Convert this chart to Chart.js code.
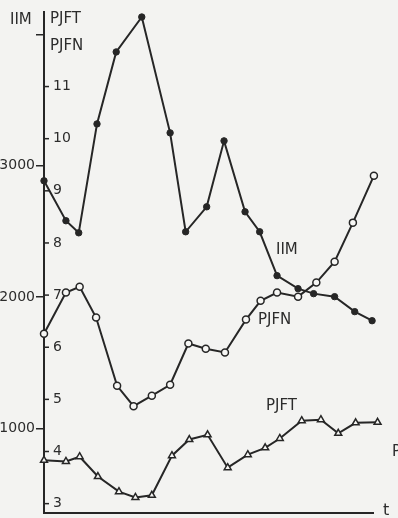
<!DOCTYPE html>
<html>
<head>
  <title>IIM / PJFN / PJFT</title>
  <script src="https://cdn.jsdelivr.net/npm/chart.js@4.4.0/dist/chart.umd.min.js"></script>
  <style>
    * { margin: 0; padding: 0; box-sizing: border-box; }
    body { background: #f3f3f1; width: 398px; height: 518px; overflow: hidden; }
    .wrap { position: relative; width: 398px; height: 518px; }
  </style>
</head>
<body>
  <div class="wrap"><canvas id="chart"></canvas></div>

  <script>
    // time positions (hand drawn, spacing not quite even)
    const tIIM  = [0, 1.2, 1.9, 2.9, 3.95, 5.35, 6.9, 7.75, 8.9, 9.85, 11.0, 11.8, 12.75, 13.9, 14.75, 15.9, 17.0, 17.95];
    const iim   = [2886, 2582, 2490, 3319, 3867, 4133, 3251, 2498, 2688, 3190, 2650, 2498, 2164, 2065, 2027, 2004, 1890, 1821];

    const tPJFN = [0, 1.2, 1.95, 2.85, 4.0, 4.9, 5.9, 6.9, 7.9, 8.85, 9.9, 11.05, 11.85, 12.75, 13.9, 14.9, 15.9, 16.9, 18.05];
    const pjfn  = [6.26, 7.05, 7.16, 6.57, 5.26, 4.87, 5.07, 5.28, 6.07, 5.97, 5.90, 6.53, 6.89, 7.05, 6.97, 7.24, 7.64, 8.39, 9.29];

    const tPJFT = [0, 1.2, 1.95, 2.95, 4.1, 5.0, 5.9, 7.0, 7.95, 8.95, 10.05, 11.15, 12.1, 12.9, 14.1, 15.15, 16.1, 17.05, 18.25];
    const pjft  = [3.83, 3.81, 3.90, 3.52, 3.23, 3.12, 3.16, 3.92, 4.23, 4.32, 3.69, 3.94, 4.07, 4.25, 4.59, 4.61, 4.35, 4.55, 4.56];

    const iimTicks = [1000, 2000, 3000, 4000];
    const pjTicks  = [3, 4, 5, 6, 7, 8, 9, 10, 11];

    const ink = '#262626';
    const paper = '#f7f7f5';
    const font = 'DejaVu Sans';

    const pts = (xs, ys) => xs.map((x, i) => ({ x: x, y: ys[i] }));

    const labels = {
      id: 'labels',
      afterDraw(chart) {
        const { ctx, chartArea } = chart;
        const y2 = chart.scales.y2;
        ctx.save();
        // PJ scale tick marks sit on the right of the axis line
        ctx.strokeStyle = ink;
        ctx.lineWidth = 1.5;
        pjTicks.forEach(v => {
          const y = y2.getPixelForValue(v);
          ctx.beginPath();
          ctx.moveTo(chartArea.left, y);
          ctx.lineTo(chartArea.left + 5, y);
          ctx.stroke();
        });
        ctx.fillStyle = '#2c2c2c';
        ctx.textBaseline = 'middle';
        ctx.textAlign = 'left';
        ctx.font = '15px "' + font + '"';
        ctx.fillText('IIM', 10, 20);
        ctx.fillText('PJFT', 50, 19);
        ctx.fillText('PJFN', 50, 46);
        ctx.fillText('IIM', 276, 250);
        ctx.fillText('PJFN', 258, 320);
        ctx.fillText('PJFT', 266, 406);
        ctx.fillText('P', 392, 452);
        ctx.font = '16px "' + font + '"';
        ctx.fillText('t', 383, 511);
        ctx.restore();
      }
    };

    new Chart(document.getElementById('chart'), {
      type: 'line',
      data: {
        datasets: [
          {
            label: 'IIM',
            data: pts(tIIM, iim),
            yAxisID: 'y',
            borderColor: ink,
            borderWidth: 2,
            pointStyle: 'circle',
            pointRadius: 3.2,
            pointBackgroundColor: ink,
            pointBorderColor: ink,
            pointBorderWidth: 1,
            tension: 0,
            clip: false
          },
          {
            label: 'PJFN',
            data: pts(tPJFN, pjfn),
            yAxisID: 'y2',
            borderColor: ink,
            borderWidth: 2,
            pointStyle: 'circle',
            pointRadius: 3.5,
            pointBackgroundColor: paper,
            pointBorderColor: ink,
            pointBorderWidth: 1.5,
            tension: 0,
            clip: false
          },
          {
            label: 'PJFT',
            data: pts(tPJFT, pjft),
            yAxisID: 'y2',
            borderColor: ink,
            borderWidth: 2,
            pointStyle: 'triangle',
            pointRadius: 4,
            pointBackgroundColor: paper,
            pointBorderColor: ink,
            pointBorderWidth: 1.5,
            tension: 0,
            clip: false
          }
        ]
      },
      options: {
        responsive: true,
        maintainAspectRatio: false,
        animation: false,
        layout: { padding: { top: 12, right: 25, left: 0, bottom: 0 } },
        plugins: {
          legend: { display: false },
          tooltip: { enabled: false }
        },
        scales: {
          x: {
            type: 'linear',
            min: 0,
            max: 18,
            grid: { display: false },
            ticks: { display: false },
            border: { display: true, color: ink, width: 2 },
            afterFit: s => { s.height = 5; }
          },
          y: {
            type: 'linear',
            position: 'left',
            weight: 1,
            min: 361,
            max: 4171,
            afterBuildTicks: s => { s.ticks = iimTicks.map(v => ({ value: v })); },
            ticks: {
              color: '#2c2c2c',
              font: { family: font, size: 14 },
              padding: 1,
              callback: v => (v === 4000 ? '' : v)
            },
            grid: { drawOnChartArea: false, tickLength: 8, color: ink, lineWidth: 1.5 },
            border: { display: true, color: ink, width: 2 },
            afterFit: s => { s.width = 44; s.paddingTop = 0; s.paddingBottom = 0; }
          },
          y2: {
            type: 'linear',
            position: 'left',
            weight: 0,
            min: 2.83,
            max: 12.43,
            afterBuildTicks: s => { s.ticks = pjTicks.map(v => ({ value: v })); },
            ticks: {
              mirror: true,
              color: '#2c2c2c',
              font: { family: font, size: 14 },
              padding: 9
            },
            grid: { display: false },
            border: { display: false },
            afterFit: s => { s.width = 0; s.paddingTop = 0; s.paddingBottom = 0; }
          }
        }
      },
      plugins: [labels]
    });
  </script>
</body>
</html>
